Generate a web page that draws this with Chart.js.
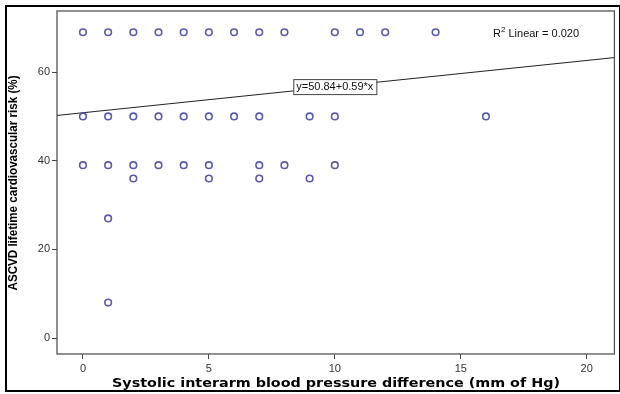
<!DOCTYPE html>
<html lang="en">
<head>
    <meta charset="UTF-8">
    <title>Interarm BP difference vs ASCVD risk</title>
    <script src="https://cdn.jsdelivr.net/npm/chart.js"></script>
    <style>
        html, body { margin: 0; padding: 0; background: #fff; }
        #wrap { width: 620px; height: 394px; }
    </style>
</head>
<body>
    <div id="wrap">
        <canvas id="grafico"></canvas>
    </div>
    <script>
        // points, one row per risk level
        const riskLevels = [69, 50, 39, 36, 27, 8];
        const diffsAt69 = [0, 1, 2, 3, 4, 5, 6, 7, 8, 10, 11, 12, 14];
        const diffsAt50 = [0, 1, 2, 3, 4, 5, 6, 7, 9, 10, 16];
        const diffsAt39 = [0, 1, 2, 3, 4, 5, 7, 8, 10];
        const diffsAt36 = [2, 5, 7, 9];
        const diffsAt27 = [1];
        const diffsAt8 = [1];

        const xTicks = [0, 5, 10, 15, 20];
        const yTicks = [0, 20, 40, 60];

        const intercept = 50.84;
        const slope = 0.59;
        const rSquared = '0.020';

        const xMin = -1.03, xMax = 21.1;
        const yMin = -3.6, yMax = 73.8;

        const rows = [diffsAt69, diffsAt50, diffsAt39, diffsAt36, diffsAt27, diffsAt8];
        const pontos = [];
        rows.forEach((row, i) => {
            row.forEach(x => pontos.push({ x: x, y: riskLevels[i] }));
        });

        const linha = [
            { x: xMin, y: intercept + slope * xMin },
            { x: xMax, y: intercept + slope * xMax }
        ];

        const fonte = '"Liberation Sans", Arial, sans-serif';

        // draw text squeezed or stretched to a given width
        function textoLargura(ctx, texto, x, y, largura) {
            const w = ctx.measureText(texto).width;
            ctx.save();
            ctx.translate(x, y);
            ctx.scale(largura / w, 1);
            ctx.fillText(texto, 0, 0);
            ctx.restore();
        }

        const extras = {
            id: 'extras',
            afterDatasetsDraw(chart) {
                const ctx = chart.ctx;
                const a = chart.chartArea;
                const sx = chart.scales.x, sy = chart.scales.y;
                ctx.save();

                // plot frame
                ctx.strokeStyle = '#555';
                ctx.lineWidth = 1.3;
                ctx.strokeRect(a.left, a.top, a.right - a.left, a.bottom - a.top);

                // outer frame
                ctx.strokeStyle = '#000';
                ctx.lineWidth = 2;
                ctx.strokeRect(6, 6, 614, 385);

                // equation label on the fit line at x = 10
                const lx = sx.getPixelForValue(10);
                const ly = sy.getPixelForValue(intercept + slope * 10);
                const texto = 'y=' + intercept.toFixed(2) + '+' + slope.toFixed(2) + '*x';
                ctx.font = '11px ' + fonte;
                const w = ctx.measureText(texto).width + 6;
                ctx.fillStyle = '#fff';
                ctx.fillRect(lx - w / 2, ly - 7.5, w, 15);
                ctx.strokeStyle = '#444';
                ctx.lineWidth = 1;
                ctx.strokeRect(lx - w / 2 + 0.5, ly - 7.5 + 0.5, w, 15);
                ctx.fillStyle = '#111';
                ctx.textAlign = 'center';
                ctx.textBaseline = 'middle';
                ctx.fillText(texto, lx, ly + 0.5);

                // R squared
                ctx.textAlign = 'left';
                let tx = 493;
                ctx.font = '11px ' + fonte;
                ctx.fillText('R', tx, 34);
                tx += ctx.measureText('R').width;
                ctx.font = '8px ' + fonte;
                ctx.fillText('2', tx, 30);
                tx += ctx.measureText('2').width;
                ctx.font = '11px ' + fonte;
                ctx.fillText(' Linear = ' + rSquared, tx, 34);

                // axis titles
                ctx.fillStyle = '#000';
                ctx.textAlign = 'center';
                ctx.textBaseline = 'alphabetic';
                ctx.font = 'bold 12px "DejaVu Sans", Verdana, sans-serif';
                textoLargura(ctx, 'Systolic interarm blood pressure difference (mm of Hg)', 336, 387, 448);

                ctx.translate(17, 183);
                ctx.rotate(-Math.PI / 2);
                ctx.font = 'bold 13px "Liberation Sans Narrow", "Arial Narrow", ' + fonte;
                textoLargura(ctx, 'ASCVD lifetime cardiovascular risk (%)', 0, 0, 215);
                ctx.restore();
            }
        };

        function criarGrafico() {
            const ctx = document.getElementById('grafico').getContext('2d');
            new Chart(ctx, {
                data: {
                    datasets: [{
                        type: 'line',
                        data: linha,
                        borderColor: '#222',
                        borderWidth: 1,
                        pointRadius: 0,
                        fill: false,
                        order: 2
                    }, {
                        type: 'scatter',
                        data: pontos,
                        pointRadius: 3.3,
                        pointBorderWidth: 1.6,
                        pointBorderColor: '#5a5aad',
                        pointBackgroundColor: 'rgba(255,255,255,0)',
                        order: 1
                    }]
                },
                options: {
                    responsive: true,
                    maintainAspectRatio: false,
                    animation: false,
                    layout: { padding: { left: 5, top: 11, right: 3, bottom: 0 } },
                    plugins: { legend: { display: false }, tooltip: { enabled: false } },
                    scales: {
                        x: {
                            type: 'linear',
                            min: xMin,
                            max: xMax,
                            afterFit: s => { s.height = 40; },
                            afterBuildTicks: s => { s.ticks = xTicks.map(v => ({ value: v })); },
                            grid: { drawOnChartArea: false, tickLength: 5, color: '#444' },
                            border: { display: false },
                            ticks: { color: '#333', font: { family: fonte, size: 11 }, padding: 3 }
                        },
                        y: {
                            type: 'linear',
                            min: yMin,
                            max: yMax,
                            afterFit: s => { s.width = 52; },
                            afterBuildTicks: s => { s.ticks = yTicks.map(v => ({ value: v })); },
                            grid: { drawOnChartArea: false, tickLength: 5, color: '#444' },
                            border: { display: false },
                            ticks: { color: '#333', font: { family: fonte, size: 11 }, padding: 2 }
                        }
                    }
                },
                plugins: [extras]
            });
        }

        window.onload = function() {
            criarGrafico();
        };
    </script>
</body>
</html>
